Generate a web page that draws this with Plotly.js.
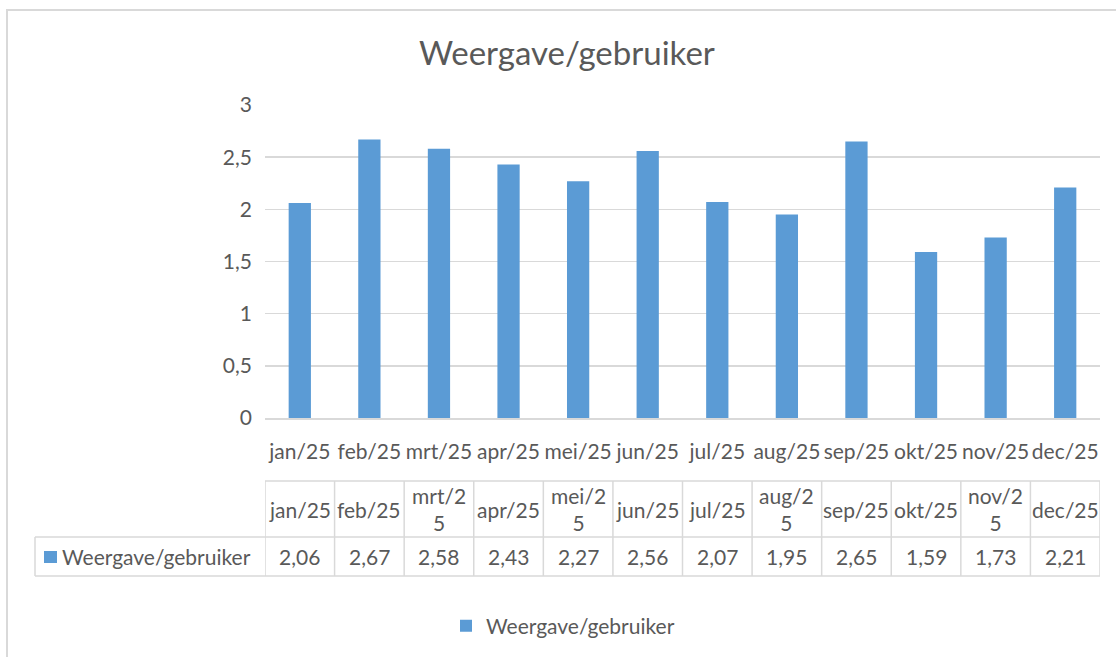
<!DOCTYPE html>
<html>
<head>
<meta charset="utf-8">
<script src="https://cdn.plot.ly/plotly-3.0.1.min.js"></script>
<style>html,body{margin:0;padding:0;background:#fff;}#chart{width:1116px;height:657px;}</style>
</head>
<body>
<div id="chart"></div>
<script>
// ---- data ----
const months = ["jan/25","feb/25","mrt/25","apr/25","mei/25","jun/25","jul/25","aug/25","sep/25","okt/25","nov/25","dec/25"];
const tableHeaders = ["jan/25","feb/25","mrt/2<br>5","apr/25","mei/2<br>5","jun/25","jul/25","aug/2<br>5","sep/25","okt/25","nov/2<br>5","dec/25"];
const values = [2.06, 2.67, 2.58, 2.43, 2.27, 2.56, 2.07, 1.95, 2.65, 1.59, 1.73, 2.21];
const seriesName = "Weergave/gebruiker";
const chartTitle = "Weergave/gebruiker";

// ---- layout helpers (pixel -> paper) ----
const W = 1116, H = 657;
const px = v => v / W;
const py = v => 1 - v / H;
const FONT = "Lato, 'Open Sans', sans-serif";
const TXT = "#595959";
const GRID = "#d9d9d9";
const BLUE = "#5b9bd5";
const FS = 21;

const plotL = 265, plotR = 1100, plotT = 105, plotB = 418;
const rowTop = 481, rowMid = 537, rowBot = 576, legCellL = 35;

const fmt = v => v.toFixed(2).replace('.', ',');

const shapes = [];
const annotations = [];

// outer chart border
shapes.push({type:'rect', xref:'paper', yref:'paper', x0:px(7), x1:px(1130), y0:py(680), y1:py(10),
  line:{color:GRID, width:2}, fillcolor:'rgba(0,0,0,0)', layer:'below'});

// table: horizontal lines
shapes.push({type:'line', xref:'x', yref:'paper', x0:-0.5, x1:months.length-0.5, y0:py(rowTop), y1:py(rowTop), line:{color:GRID,width:1.5}});
shapes.push({type:'line', xref:'paper', yref:'paper', x0:px(legCellL), x1:px(plotR), y0:py(rowMid), y1:py(rowMid), line:{color:GRID,width:1.5}});
shapes.push({type:'line', xref:'paper', yref:'paper', x0:px(legCellL), x1:px(plotR), y0:py(rowBot), y1:py(rowBot), line:{color:GRID,width:1.5}});
// legend cell left border
shapes.push({type:'line', xref:'paper', yref:'paper', x0:px(legCellL), x1:px(legCellL), y0:py(rowMid), y1:py(rowBot), line:{color:GRID,width:1.5}});
// vertical column borders
for (let i = 0; i <= months.length; i++) {
  shapes.push({type:'line', xref:'x', yref:'paper', x0:i-0.5, x1:i-0.5, y0:py(rowTop), y1:py(rowBot), line:{color:GRID,width:1.5}});
}
// header & value cells
months.forEach((m, i) => {
  annotations.push({xref:'x', yref:'paper', x:m, y:py((rowTop+rowMid)/2), text:tableHeaders[i], showarrow:false,
    font:{family:FONT, size:FS, color:TXT}, xanchor:'center', yanchor:'middle'});
  annotations.push({xref:'x', yref:'paper', x:m, y:py((rowMid+rowBot)/2), text:fmt(values[i]), showarrow:false,
    font:{family:FONT, size:FS, color:TXT}, xanchor:'center', yanchor:'middle'});
});
// legend key inside table
shapes.push({type:'rect', xref:'paper', yref:'paper', x0:px(44), x1:px(57), y0:py(563), y1:py(551), fillcolor:BLUE, line:{width:0}});
annotations.push({xref:'paper', yref:'paper', x:px(60), y:py((rowMid+rowBot)/2), text:seriesName, showarrow:false,
  font:{family:FONT, size:FS, color:TXT}, xanchor:'left', yanchor:'middle'});

const trace = {
  type:'bar', x:months, y:values, name:seriesName,
  marker:{color:BLUE}, hoverinfo:'x+y'
};

const layout = {
  width:W, height:H,
  margin:{l:0, r:0, t:0, b:0},
  paper_bgcolor:'#ffffff', plot_bgcolor:'#ffffff',
  separators:',.',
  font:{family:FONT, size:FS, color:TXT},
  title:{text:chartTitle, font:{family:FONT, size:33, color:TXT}, x:0.508, xanchor:'center', y:py(53), yanchor:'middle'},
  bargap:0.68,
  xaxis:{domain:[px(plotL), px(plotR)], type:'category', range:[-0.5, months.length-0.5],
    showline:true, linecolor:GRID, linewidth:1.5, ticks:'', showgrid:false,
    tickfont:{family:FONT, size:FS, color:TXT}, ticklabelstandoff:14, fixedrange:true},
  yaxis:{domain:[py(plotB), py(plotT)], range:[0,3], dtick:0.5, tick0:0,
    showgrid:true, gridcolor:GRID, gridwidth:1.5, zeroline:false, showline:false, ticks:'',
    tickfont:{family:FONT, size:FS, color:TXT}, ticklabelstandoff:12, fixedrange:true},
  showlegend:true,
  legend:{orientation:'h', x:px(446), xanchor:'left', y:py(626), yanchor:'middle',
    font:{family:FONT, size:FS, color:TXT}, bgcolor:'rgba(0,0,0,0)'},
  shapes:shapes, annotations:annotations
};

Plotly.newPlot('chart', [trace], layout, {displayModeBar:false, staticPlot:true});
</script>
</body>
</html>
